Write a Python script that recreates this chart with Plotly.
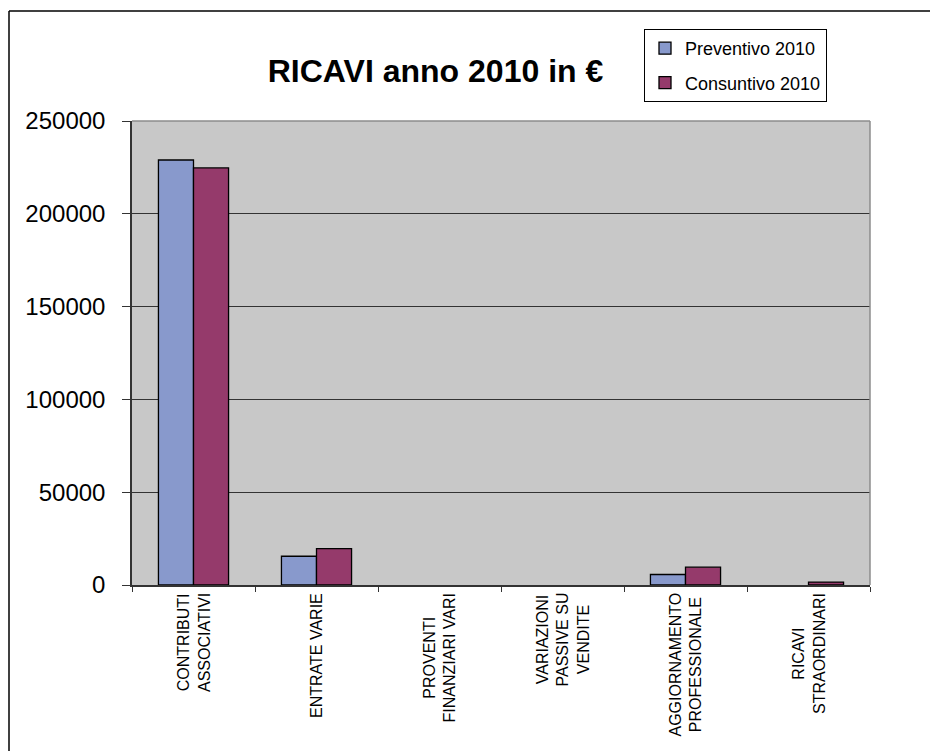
import plotly.graph_objects as go

categories = ["CONTRIBUTI<br>ASSOCIATIVI", "ENTRATE VARIE", "PROVENTI<br>FINANZIARI VARI",
              "VARIAZIONI<br>PASSIVE SU<br>VENDITE", "AGGIORNAMENTO<br>PROFESSIONALE", "RICAVI<br>STRAORDINARI"]
preventivo = [229000, 15500, 0, 0, 5650, 0]
consuntivo = [224700, 19600, 0, 0, 9600, 1600]
y_ticks = [0, 50000, 100000, 150000, 200000, 250000]

def nz(vals):
    return [v if v else None for v in vals]

W, H = 930, 743
L, R, T, B = 124, 68, 113, 166
PW, PH = W - L - R, H - T - B

fig = go.Figure()
fig.add_bar(x=categories, y=nz(preventivo), name="Preventivo 2010", legendgroup="a",
            marker=dict(color="#8899CC", line=dict(color="black", width=1.3)))
fig.add_bar(x=categories, y=nz(consuntivo), name="Consuntivo 2010", legendgroup="b",
            marker=dict(color="#953A6B", line=dict(color="black", width=1.3)))

fig.update_layout(
    width=W, height=H,
    paper_bgcolor="white", plot_bgcolor="#C8C8C8",
    margin=dict(l=L, r=R, t=T, b=B, autoexpand=False),
    barmode="group", bargap=0.43, bargroupgap=0,
    font=dict(family="Liberation Sans, Arial", color="black"),
    title=dict(text="<b>RICAVI anno 2010 in €</b>", font=dict(size=32, color="black"),
               x=427.5 / W, xanchor="center", y=1 - 63 / H, yanchor="middle"),
    legend=dict(x=(819 - L) / PW, y=1 + (T - 21) / PH, xanchor="right", yanchor="top",
                bgcolor="white", bordercolor="black", borderwidth=1,
                font=dict(size=18), tracegroupgap=8),
    showlegend=True,
)
fig.update_xaxes(showline=True, linecolor="#333333", linewidth=1.5,
                 ticks="outside", tickson="boundaries", ticklen=5, tickcolor="#333333",
                 showticklabels=False, showgrid=False)
fig.update_yaxes(range=[0, 250000], tickvals=y_ticks, ticktext=[str(v) for v in y_ticks],
                 showline=True, linecolor="#333333", linewidth=1.5,
                 ticks="outside", ticklen=8, tickcolor="#333333", ticklabelstandoff=12,
                 showgrid=True, gridcolor="#333333", gridwidth=1,
                 tickfont=dict(size=24), zeroline=False)

for c in categories:
    fig.add_annotation(x=c, y=0, xref="x", yref="paper", yanchor="top", xanchor="center",
                       yshift=-6, text=c, textangle=-90, align="center",
                       showarrow=False, font=dict(size=16, color="black"))

# plot area border (top/right grey)
fig.add_shape(type="line", xref="paper", yref="paper", x0=0, x1=1, y0=1, y1=1,
              line=dict(color="#8C8C8C", width=1.5), layer="above")
fig.add_shape(type="line", xref="paper", yref="paper", x0=1, x1=1, y0=0, y1=1,
              line=dict(color="#8C8C8C", width=1.5), layer="above")
# outer chart border (left and top visible)
fig.add_shape(type="line", xref="paper", yref="paper",
              x0=(1 - L) / PW, x1=(1 - L) / PW, y0=(PH - H) / PH, y1=(PH + T - 3) / PH,
              line=dict(color="black", width=1.5))
fig.add_shape(type="line", xref="paper", yref="paper",
              x0=(1 - L) / PW, x1=(W - L) / PW, y0=(PH + T - 3) / PH, y1=(PH + T - 3) / PH,
              line=dict(color="black", width=1.5))
fig.write_html("out.html")
